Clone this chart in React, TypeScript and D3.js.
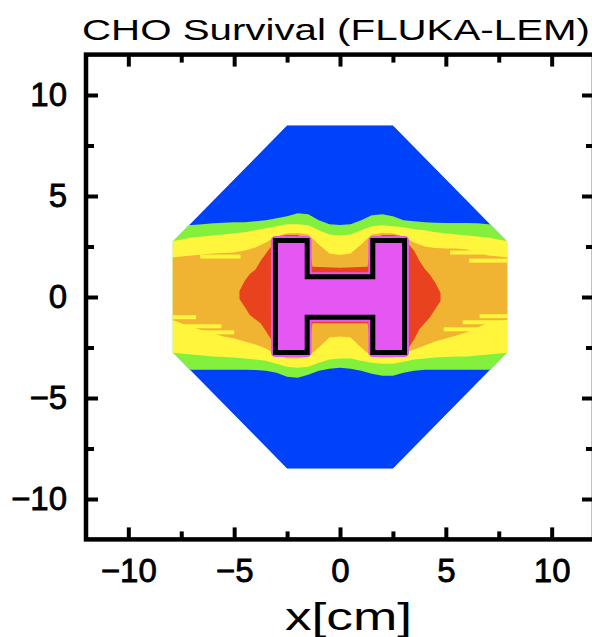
import React, { useEffect, useRef } from "react";
import * as d3 from "d3";

const title = "CHO Survival (FLUKA-LEM)";
const xTitle = "x[cm]";
const majorTicks = [-10, -5, 0, 5, 10];
const minorTicks = [-7.5, -2.5, 2.5, 7.5];

// irradiated field outline (cm)
const fieldX = [-2.5, 2.5, 7.9, 7.9, 2.5, -2.5, -7.9, -7.9];
const fieldY = [8.5, 8.5, 2.75, -2.75, -8.5, -8.5, -2.75, 2.75];

// survival level edges, sampled along x (cm)
const bandX = [-8, -7.5, -7, -6.5, -6, -5.5, -5, -4.5, -4, -3.5, -3, -2.5, -2, -1.5, -1, -0.5, 0, 0.5, 1, 1.5, 2, 2.5, 3, 3.5, 4, 4.5, 5, 5.5, 6, 6.5, 7, 7.5, 8];
const greenTop = [3.5, 3.55, 3.56, 3.6, 3.65, 3.68, 3.7, 3.7, 3.75, 3.8, 3.9, 4.0, 4.15, 4.1, 3.8, 3.6, 3.56, 3.6, 3.8, 4.05, 4.1, 4.0, 3.8, 3.75, 3.7, 3.68, 3.66, 3.66, 3.66, 3.65, 3.6, 3.55, 3.5];
const greenBottom = [-3.55, -3.58, -3.6, -3.6, -3.6, -3.6, -3.6, -3.6, -3.62, -3.65, -3.75, -3.95, -4.0, -3.85, -3.65, -3.55, -3.5, -3.55, -3.65, -3.8, -3.9, -3.9, -3.75, -3.65, -3.6, -3.6, -3.6, -3.6, -3.6, -3.6, -3.6, -3.58, -3.55];
const yellowTop = [2.75, 2.85, 2.95, 3.0, 3.05, 3.1, 3.15, 3.2, 3.3, 3.4, 3.5, 3.6, 3.6, 3.55, 3.3, 3.1, 3.05, 3.1, 3.3, 3.5, 3.55, 3.5, 3.45, 3.35, 3.3, 3.2, 3.15, 3.1, 3.05, 3.0, 2.95, 2.85, 2.75];
const yellowBottom = [-2.75, -2.8, -2.85, -2.9, -2.95, -2.97, -3.0, -3.05, -3.1, -3.15, -3.3, -3.45, -3.5, -3.45, -3.25, -3.1, -3.05, -3.05, -3.15, -3.25, -3.3, -3.3, -3.2, -3.1, -3.05, -3.0, -2.97, -2.95, -2.95, -2.9, -2.85, -2.8, -2.75];
const orangeTop = [1.95, 2.0, 2.05, 2.1, 2.15, 2.18, 2.2, 2.3, 2.45, 2.7, 3.0, 3.15, 3.17, 3.1, 2.6, 2.15, 2.08, 2.15, 2.6, 3.1, 3.17, 3.15, 3.0, 2.7, 2.5, 2.43, 2.4, 2.4, 2.35, 2.2, 2.05, 2.0, 1.95];
const orangeBottom = [-1.1, -1.3, -1.5, -1.65, -1.8, -1.95, -2.05, -2.2, -2.35, -2.55, -2.85, -3.05, -3.05, -2.95, -2.5, -2.0, -1.95, -2.0, -2.5, -2.95, -3.0, -3.0, -2.8, -2.6, -2.4, -2.2, -2.05, -1.9, -1.75, -1.5, -1.3, -1.2, -1.1];

// yellow streaks inside the orange band near the field edges: [x0, x1, y]
const streakX0 = [-7.9, -7.9, -7.0, -6.6, 6.6, 5.8, 4.9, 6.1, 5.2];
const streakX1 = [-6.8, -5.6, -5.0, -4.7, 7.9, 7.9, 7.0, 7.9, 6.8];
const streakY = [-1.0, -1.45, -1.75, 2.0, -0.95, -1.25, -1.6, 1.8, 2.2];

const redX = [-4.75, -4.5, -4.25, -4, -3.75, -3.5, -3.25, -3.05, -2.5, -2, -1.55, -1.3, 0, 1.3, 1.55, 2, 2.5, 3.05, 3.25, 3.5, 3.75, 4, 4.25, 4.5, 4.75];
const redTop = [0.3, 0.8, 1.15, 1.35, 1.8, 2.15, 2.5, 3.0, 3.07, 3.07, 2.9, 1.5, 1.45, 1.5, 2.9, 3.07, 3.07, 3.0, 2.6, 2.3, 1.8, 1.4, 1.1, 0.7, 0.2];
const redBottom = [-0.1, -0.5, -0.9, -1.1, -1.3, -1.7, -2.1, -2.85, -2.9, -2.9, -2.9, -1.3, -1.3, -1.3, -2.9, -2.9, -2.9, -2.85, -2.5, -2.1, -1.6, -1.3, -1.0, -0.6, -0.2];

// H-shaped target
const targetX = [-3.05, -1.55, -1.55, 1.55, 1.55, 3.05, 3.05, 1.55, 1.55, -1.55, -1.55, -3.05];
const targetY = [2.8, 2.8, 1.0, 1.0, 2.8, 2.8, -2.75, -2.75, -1.0, -1.0, -2.75, -2.75];

const colors = {
  blue: "#0042fa",
  green: "#82f03c",
  yellow: "#fff53c",
  orange: "#f0b432",
  red: "#e8421f",
  magenta: "#e557f2",
};

const fmt = (d: number) => (d < 0 ? "\u2212" + Math.abs(d) : String(d));

const App = () => {
  const ref = useRef<SVGSVGElement>(null);
  const width = 592;
  const height = 637;
  const frame = { left: 86, right: 594, top: 54.6, bottom: 539.4 };

  useEffect(() => {
    const svg = d3.select(ref.current);
    svg.selectAll("*").remove();

    const x = d3.scaleLinear().domain([-12, 12]).range([frame.left, frame.right]);
    const y = d3.scaleLinear().domain([-12, 12]).range([frame.bottom, frame.top]);

    const fieldPts = fieldX.map((v, i) => [x(v), y(fieldY[i])] as [number, number]);
    const fieldPath = d3.line()(fieldPts) + "Z";
    svg.append("defs").append("clipPath").attr("id", "field").append("path").attr("d", fieldPath);

    const map = svg.append("g").attr("clip-path", "url(#field)");
    map.append("path").attr("d", fieldPath).attr("fill", colors.blue);

    const band = (xs: number[], top: number[], bot: number[], color: string) => {
      const area = d3
        .area<number>()
        .x((i) => x(xs[i]))
        .y0((i) => y(bot[i]))
        .y1((i) => y(top[i]));
      map.append("path").attr("d", area(d3.range(xs.length))).attr("fill", color);
    };
    band(bandX, greenTop, greenBottom, colors.green);
    band(bandX, yellowTop, yellowBottom, colors.yellow);
    band(bandX, orangeTop, orangeBottom, colors.orange);

    map
      .selectAll("rect.streak")
      .data(d3.range(streakY.length))
      .join("rect")
      .attr("class", "streak")
      .attr("x", (i) => x(streakX0[i]))
      .attr("width", (i) => x(streakX1[i]) - x(streakX0[i]))
      .attr("y", (i) => y(streakY[i]) - 2)
      .attr("height", 4)
      .attr("fill", colors.yellow);

    band(redX, redTop, redBottom, colors.red);

    const targetPts = targetX.map((v, i) => [x(v), y(targetY[i])] as [number, number]);
    const targetPath = d3.line()(targetPts) + "Z";
    map
      .append("path")
      .attr("d", targetPath)
      .attr("fill", colors.magenta)
      .attr("stroke", colors.magenta)
      .attr("stroke-width", 9)
      .attr("stroke-linejoin", "round");
    map
      .append("path")
      .attr("d", targetPath)
      .attr("fill", "none")
      .attr("stroke", "black")
      .attr("stroke-width", 5);

    // frame + ticks (inward on all sides)
    const axes = [
      { gen: d3.axisLeft(y), t: `translate(${frame.left},0)`, labels: true },
      { gen: d3.axisRight(y), t: `translate(${frame.right},0)`, labels: false },
      { gen: d3.axisTop(x), t: `translate(0,${frame.top})`, labels: false },
      { gen: d3.axisBottom(x), t: `translate(0,${frame.bottom})`, labels: true },
    ];
    axes.forEach(({ gen, t, labels }) => {
      const minor = svg
        .append("g")
        .attr("transform", t)
        .call(gen.tickValues(minorTicks).tickSize(-8).tickFormat(() => ""));
      minor.select(".domain").remove();
      minor.selectAll("line").attr("stroke-width", 4);

      const major = svg
        .append("g")
        .attr("transform", t)
        .call(
          gen
            .tickValues(majorTicks)
            .tickSize(-12)
            .tickPadding(19)
            .tickFormat((d) => (labels ? fmt(+d) : ""))
        );
      major.select(".domain").remove();
      major.selectAll("line").attr("stroke-width", 4);
      major
        .selectAll("text")
        .attr("font-family", "'Liberation Sans', Arial, sans-serif")
        .attr("font-size", 33)
        .attr("fill", "black")
        .attr("stroke", "black")
        .attr("stroke-width", 0.8);
    });

    svg
      .append("rect")
      .attr("x", frame.left)
      .attr("y", frame.top)
      .attr("width", frame.right - frame.left)
      .attr("height", frame.bottom - frame.top)
      .attr("fill", "none")
      .attr("stroke", "black")
      .attr("stroke-width", 4.5);

    svg
      .append("text")
      .attr("x", 82)
      .attr("y", 40)
      .attr("textLength", 508)
      .attr("lengthAdjust", "spacingAndGlyphs")
      .attr("font-family", "'Liberation Sans', Arial, sans-serif")
      .attr("font-size", 29)
      .text(title);

    svg
      .append("text")
      .attr("x", 285)
      .attr("y", 630)
      .attr("textLength", 127)
      .attr("lengthAdjust", "spacingAndGlyphs")
      .attr("font-family", "'Liberation Sans', Arial, sans-serif")
      .attr("font-size", 38)
      .text(xTitle);
  }, []);

  return (
    <svg
      ref={ref}
      width={width}
      height={height}
      style={{ position: "absolute", left: 0, top: 0, background: "white" }}
    />
  );
};

export default App;
